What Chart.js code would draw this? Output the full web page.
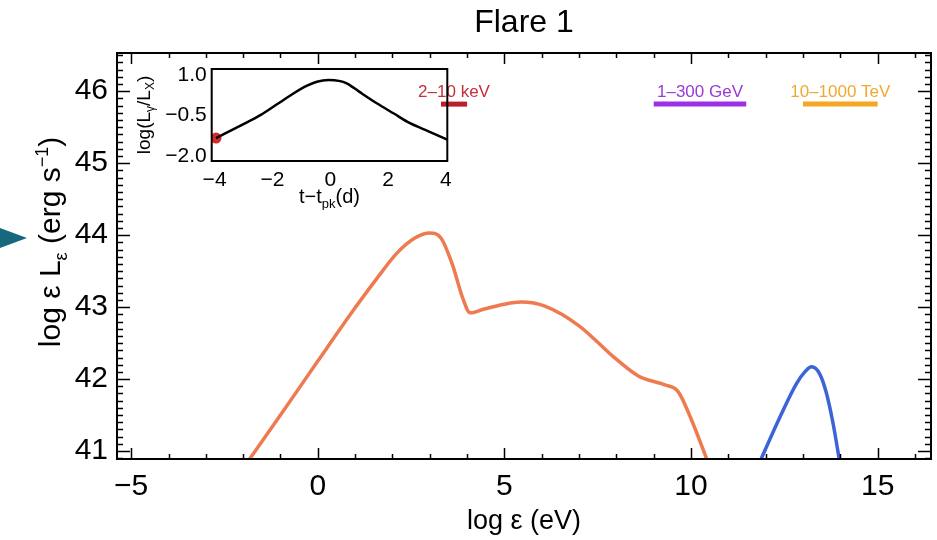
<!DOCTYPE html>
<html>
<head>
<meta charset="utf-8">
<script src="https://cdn.jsdelivr.net/npm/chart.js@4.4.0/dist/chart.umd.min.js"></script>
<style>
  html, body { margin: 0; padding: 0; background: #fff; }
  #wrap { position: relative; width: 937px; height: 540px; overflow: hidden; }
  #main { position: absolute; left: 0; top: 0; }
  #inset { position: absolute; left: 130px; top: 60px; }
</style>
</head>
<body>
<div id="wrap">
  <canvas id="main" width="937" height="540"></canvas>
  <canvas id="inset" width="330" height="150"></canvas>
</div>
<script>
// --- données ---
const xTicks = [-5, 0, 5, 10, 15];
const yTicks = [41, 42, 43, 44, 45, 46];

// SED du flare (orange) : log eps (eV) / log eps L_eps (erg/s)
const sedX = [-1.95, -1.0, 0.0, 1.0, 1.6, 2.12, 2.6, 3.0, 3.3, 3.6, 3.9, 4.08, 4.44, 5.0, 5.45, 6.1, 7.0, 7.9, 8.6, 9.3, 9.65, 10.0, 10.45];
const sedY = [40.8, 41.5, 42.25, 42.99, 43.41, 43.75, 43.96, 44.03, 43.96, 43.6, 43.1, 42.92, 42.97, 43.04, 43.07, 43.01, 42.74, 42.32, 42.04, 41.92, 41.83, 41.45, 40.85];

// composante gamma (bleu)
const nuX = [11.8, 12.39, 12.83, 13.05, 13.23, 13.45, 13.62, 13.8, 14.0];
const nuY = [40.8, 41.48, 41.94, 42.1, 42.17, 42.07, 41.82, 41.4, 40.8];

// bandes d'observation
const bandNames = ['2\u201310 keV', '1\u2013300 GeV', '10\u20131000 TeV'];
const bandLo = [3.3, 9.0, 13.0];
const bandHi = [4.0, 11.48, 15.0];
const bandLevel = 45.82;
const bandColors = ['#b8202a', '#9b30e8', '#f5a623'];
const bandTextColors = ['#c2303c', '#9a38d8', '#f0a830'];

// encart : courbe de lumiere
const insetT = [-3.95, -3.0, -2.4, -1.8, -1.26, -0.8, -0.46, -0.06, 0.3, 0.57, 1.0, 1.61, 2.2, 2.76, 3.4, 4.05];
const insetV = [-1.34, -0.82, -0.48, -0.06, 0.32, 0.6, 0.75, 0.81, 0.78, 0.69, 0.38, -0.05, -0.43, -0.79, -1.09, -1.4];
const insetXTicks = [-4, -2, 0, 2, 4];
const insetYTicks = [-2.0, -0.5, 1.0];
const insetDot = { x: -3.95, y: -1.34 };

const FONT = '"Liberation Sans", Arial, Helvetica, sans-serif';
const minus = s => String(s).replace('-', '\u2212');

function drawRich(ctx, parts, x, y) {
    // parts : [{t, size, dy}] -> texte centre sur x
    let w = 0;
    parts.forEach(p => { ctx.font = p.size + 'px ' + FONT; p.w = ctx.measureText(p.t).width; w += p.w; });
    let cx = x - w / 2;
    ctx.textAlign = 'left';
    ctx.textBaseline = 'alphabetic';
    parts.forEach(p => {
        ctx.font = p.size + 'px ' + FONT;
        ctx.fillText(p.t, cx, y + (p.dy || 0));
        cx += p.w;
    });
}

function fixTicks(list) {
    return scale => { scale.ticks = list.map(v => ({ value: v })); };
}

// on impose la taille des axes et on coupe le padding auto des etiquettes
function fitX(h) {
    return s => { s.height = h; s.paddingLeft = 0; s.paddingRight = 0; };
}
function fitY(w) {
    return s => { s.width = w; s.paddingTop = 0; s.paddingBottom = 0; };
}

// cadre + graduations vers l'interieur (style IDL)
const mainDecor = {
    id: 'mainDecor',
    afterDatasetsDraw(chart) {
        const ctx = chart.ctx;
        const a = chart.chartArea;
        const xs = chart.scales.x, ys = chart.scales.y;
        ctx.save();
        ctx.strokeStyle = '#000';
        ctx.lineWidth = 1.5;
        ctx.beginPath();
        for (let v = Math.ceil(xs.min); v <= xs.max; v++) {
            const px = Math.round(xs.getPixelForValue(v)) + 0.5;
            const len = v % 5 === 0 ? 11 : 5;
            ctx.moveTo(px, a.bottom); ctx.lineTo(px, a.bottom - len);
            ctx.moveTo(px, a.top); ctx.lineTo(px, a.top + len);
        }
        for (let i = Math.ceil(ys.min * 10); i <= ys.max * 10; i++) {
            const py = Math.round(ys.getPixelForValue(i / 10)) + 0.5;
            const len = i % 10 === 0 ? 13 : 6;
            ctx.moveTo(a.left, py); ctx.lineTo(a.left + len, py);
            ctx.moveTo(a.right, py); ctx.lineTo(a.right - len, py);
        }
        ctx.stroke();
        ctx.lineWidth = 2;
        ctx.strokeRect(a.left, a.top, a.right - a.left, a.bottom - a.top);

        // etiquettes des bandes
        ctx.textAlign = 'center';
        ctx.textBaseline = 'middle';
        ctx.font = '17px ' + FONT;
        bandNames.forEach((name, i) => {
            ctx.fillStyle = bandTextColors[i];
            const cx = xs.getPixelForValue((bandLo[i] + bandHi[i]) / 2);
            ctx.fillText(name, cx, ys.getPixelForValue(bandLevel) - 12);
        });

        // titres
        ctx.fillStyle = '#000';
        ctx.font = '32px ' + FONT;
        ctx.fillText('Flare 1', (a.left + a.right) / 2, 23);
        drawRich(ctx, [{ t: 'log \u03b5 (eV)', size: 27 }], (a.left + a.right) / 2, 529);
        ctx.save();
        ctx.translate(60, 242);
        ctx.rotate(-Math.PI / 2);
        drawRich(ctx, [
            { t: 'log \u03b5 L', size: 30 },
            { t: '\u03b5', size: 18, dy: 7 },
            { t: ' (erg s', size: 30 },
            { t: '\u22121', size: 18, dy: -12 },
            { t: ')', size: 30 }
        ], 0, 0);
        ctx.restore();

        // fleche turquoise a gauche
        ctx.fillStyle = '#17687f';
        ctx.beginPath();
        ctx.moveTo(0, 228); ctx.lineTo(27, 238); ctx.lineTo(0, 248);
        ctx.closePath();
        ctx.fill();
        ctx.restore();
    }
};

const insetDecor = {
    id: 'insetDecor',
    afterDatasetsDraw(chart) {
        const ctx = chart.ctx;
        const a = chart.chartArea;
        ctx.save();
        ctx.strokeStyle = '#000';
        ctx.lineWidth = 2;
        ctx.strokeRect(a.left, a.top, a.right - a.left, a.bottom - a.top);
        ctx.fillStyle = '#000';
        drawRich(ctx, [
            { t: 't\u2212t', size: 20 },
            { t: 'pk', size: 13, dy: 5 },
            { t: '(d)', size: 20 }
        ], (a.left + a.right) / 2, 143);
        ctx.save();
        ctx.translate(20, (a.top + a.bottom) / 2);
        ctx.rotate(-Math.PI / 2);
        drawRich(ctx, [
            { t: 'log(L', size: 19 },
            { t: '\u03b3', size: 12, dy: 4 },
            { t: '/L', size: 19 },
            { t: 'X', size: 12, dy: 4 },
            { t: ')', size: 19 }
        ], 0, 0);
        ctx.restore();
        ctx.restore();
    }
};

Chart.defaults.font.family = FONT;
Chart.defaults.color = '#000';

new Chart(document.getElementById('main').getContext('2d'), {
    type: 'scatter',
    data: {
        datasets: [
            {
                data: sedX.map((x, i) => ({ x: x, y: sedY[i] })),
                showLine: true, borderColor: '#ee7a50', borderWidth: 3.5,
                pointRadius: 0, cubicInterpolationMode: 'monotone'
            },
            {
                data: nuX.map((x, i) => ({ x: x, y: nuY[i] })),
                showLine: true, borderColor: '#3d63d8', borderWidth: 3.5,
                pointRadius: 0, cubicInterpolationMode: 'monotone'
            },
            ...bandNames.map((n, i) => ({
                data: [{ x: bandLo[i], y: bandLevel }, { x: bandHi[i], y: bandLevel }],
                showLine: true, borderColor: bandColors[i], borderWidth: 5,
                pointRadius: 0, borderCapStyle: 'butt'
            }))
        ]
    },
    options: {
        responsive: false,
        animation: false,
        devicePixelRatio: 1,
        layout: { padding: { left: 0, top: 53, right: 6, bottom: 0 } },
        plugins: { legend: { display: false }, tooltip: { enabled: false } },
        scales: {
            x: {
                type: 'linear', min: -5.38, max: 16.43,
                afterBuildTicks: fixTicks(xTicks),
                afterFit: fitX(81),
                grid: { display: false, drawTicks: false },
                border: { display: false },
                ticks: { font: { size: 30 }, padding: 10, callback: v => minus(v), maxRotation: 0 }
            },
            y: {
                type: 'linear', min: 40.89, max: 46.53,
                afterBuildTicks: fixTicks(yTicks),
                afterFit: fitY(117),
                grid: { display: false, drawTicks: false },
                border: { display: false },
                ticks: { font: { size: 30 }, padding: 9 }
            }
        }
    },
    plugins: [mainDecor]
});

new Chart(document.getElementById('inset').getContext('2d'), {
    type: 'scatter',
    data: {
        datasets: [
            {
                data: insetT.map((t, i) => ({ x: t, y: insetV[i] })),
                showLine: true, borderColor: '#000', borderWidth: 2.5,
                pointRadius: 0, cubicInterpolationMode: 'monotone'
            },
            {
                data: [insetDot],
                pointRadius: 5.5, pointBackgroundColor: '#d42a2a', pointBorderWidth: 0
            }
        ]
    },
    options: {
        responsive: false,
        animation: false,
        devicePixelRatio: 1,
        layout: { padding: { left: 0, top: 9, right: 12.7, bottom: 0 } },
        plugins: { legend: { display: false }, tooltip: { enabled: false } },
        scales: {
            x: {
                type: 'linear', min: -4.1, max: 4.05,
                afterBuildTicks: fixTicks(insetXTicks),
                afterFit: fitX(49),
                grid: { display: false, drawTicks: false },
                border: { display: false },
                ticks: { font: { size: 21 }, padding: 7, callback: v => minus(v), maxRotation: 0 }
            },
            y: {
                type: 'linear', min: -2.19, max: 1.22,
                afterBuildTicks: fixTicks(insetYTicks),
                afterFit: fitY(81.7),
                grid: { display: false, drawTicks: false },
                border: { display: false },
                ticks: { font: { size: 21 }, padding: 5, callback: v => minus(v.toFixed(1)) }
            }
        }
    },
    plugins: [insetDecor]
});
</script>
</body>
</html>
